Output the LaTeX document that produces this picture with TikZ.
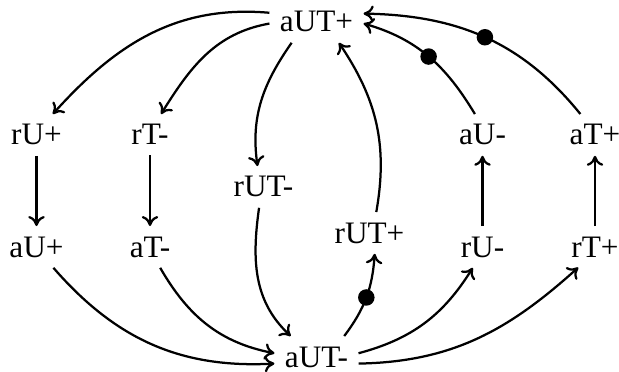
\documentclass[tikz,border=0pt]{standalone}
\usepackage{fontspec}
\setmainfont{Liberation Serif}
\usetikzlibrary{arrows.meta}
\begin{document}
\begin{tikzpicture}[x=0.4pt,y=-0.4pt,
  lbl/.style={inner sep=4.2pt, outer sep=0pt, anchor=base, font=\fontsize{12.5}{15}\selectfont},
  edge/.style={line width=0.9pt, -{To[length=4pt,width=6.6pt]}},
  dotm/.style={circle, fill=black, inner sep=0pt, minimum size=6.6pt}]
\useasboundingbox (0,0) rectangle (619,372);
\node[lbl] (aUTp) at (316.5,32) {aUT+};
\node[lbl] (rUp) at (36.5,145) {rU+};
\node[lbl] (rTm) at (150,145) {rT-};
\node[lbl] (aUm) at (482.5,145) {aU-};
\node[lbl] (aTp) at (595,145) {aT+};
\node[lbl] (rUTm) at (263.5,197) {rUT-};
\node[lbl] (aUp) at (36.5,257) {aU+};
\node[lbl] (aTm) at (150,257) {aT-};
\node[lbl] (rUm) at (482.5,257) {rU-};
\node[lbl] (rTp) at (595,257) {rT+};
\node[lbl] (rUTp) at (369.5,243) {rUT+};
\node[lbl] (aUTm) at (316.5,367) {aUT-};

\draw[edge] (aUTp.169) to[out=175,in=48] (rUp.52);
\draw[edge] (aUTp.182) to[out=190,in=58] (rTm.62);
\draw[edge] (aUTp.220) to[out=235,in=98] (rUTm.106);
\draw[edge] (rUTp.72) to[out=80,in=304] (aUTp.317);
\draw[edge] (aUm.110) to[out=121,in=344] node[dotm]{} (aUTp.358);
\draw[edge] (aTp.125) to[out=129,in=359] node[dotm]{} (aUTp.10);
\draw[edge] (rUp) -- (aUp);
\draw[edge] (rTm) -- (aTm);
\draw[edge] (rUm) -- (aUm);
\draw[edge] (rTp) -- (aTp);
\draw[edge] (aUp.309) to[out=-49,in=183] (aUTm.189);
\draw[edge] (aTm.296) to[out=-60,in=169] (aUTm.175);
\draw[edge] (rUTm.258) to[out=-98,in=137] (aUTm.141);
\draw[edge] (aUTm.37) to[out=53,in=266] node[dotm]{} (rUTp.284);
\draw[edge] (aUTm.5) to[out=15,in=238] (rUm.245);
\draw[edge] (aUTm.351) to[out=1,in=222] (rTp.231);
\end{tikzpicture}
\end{document}
